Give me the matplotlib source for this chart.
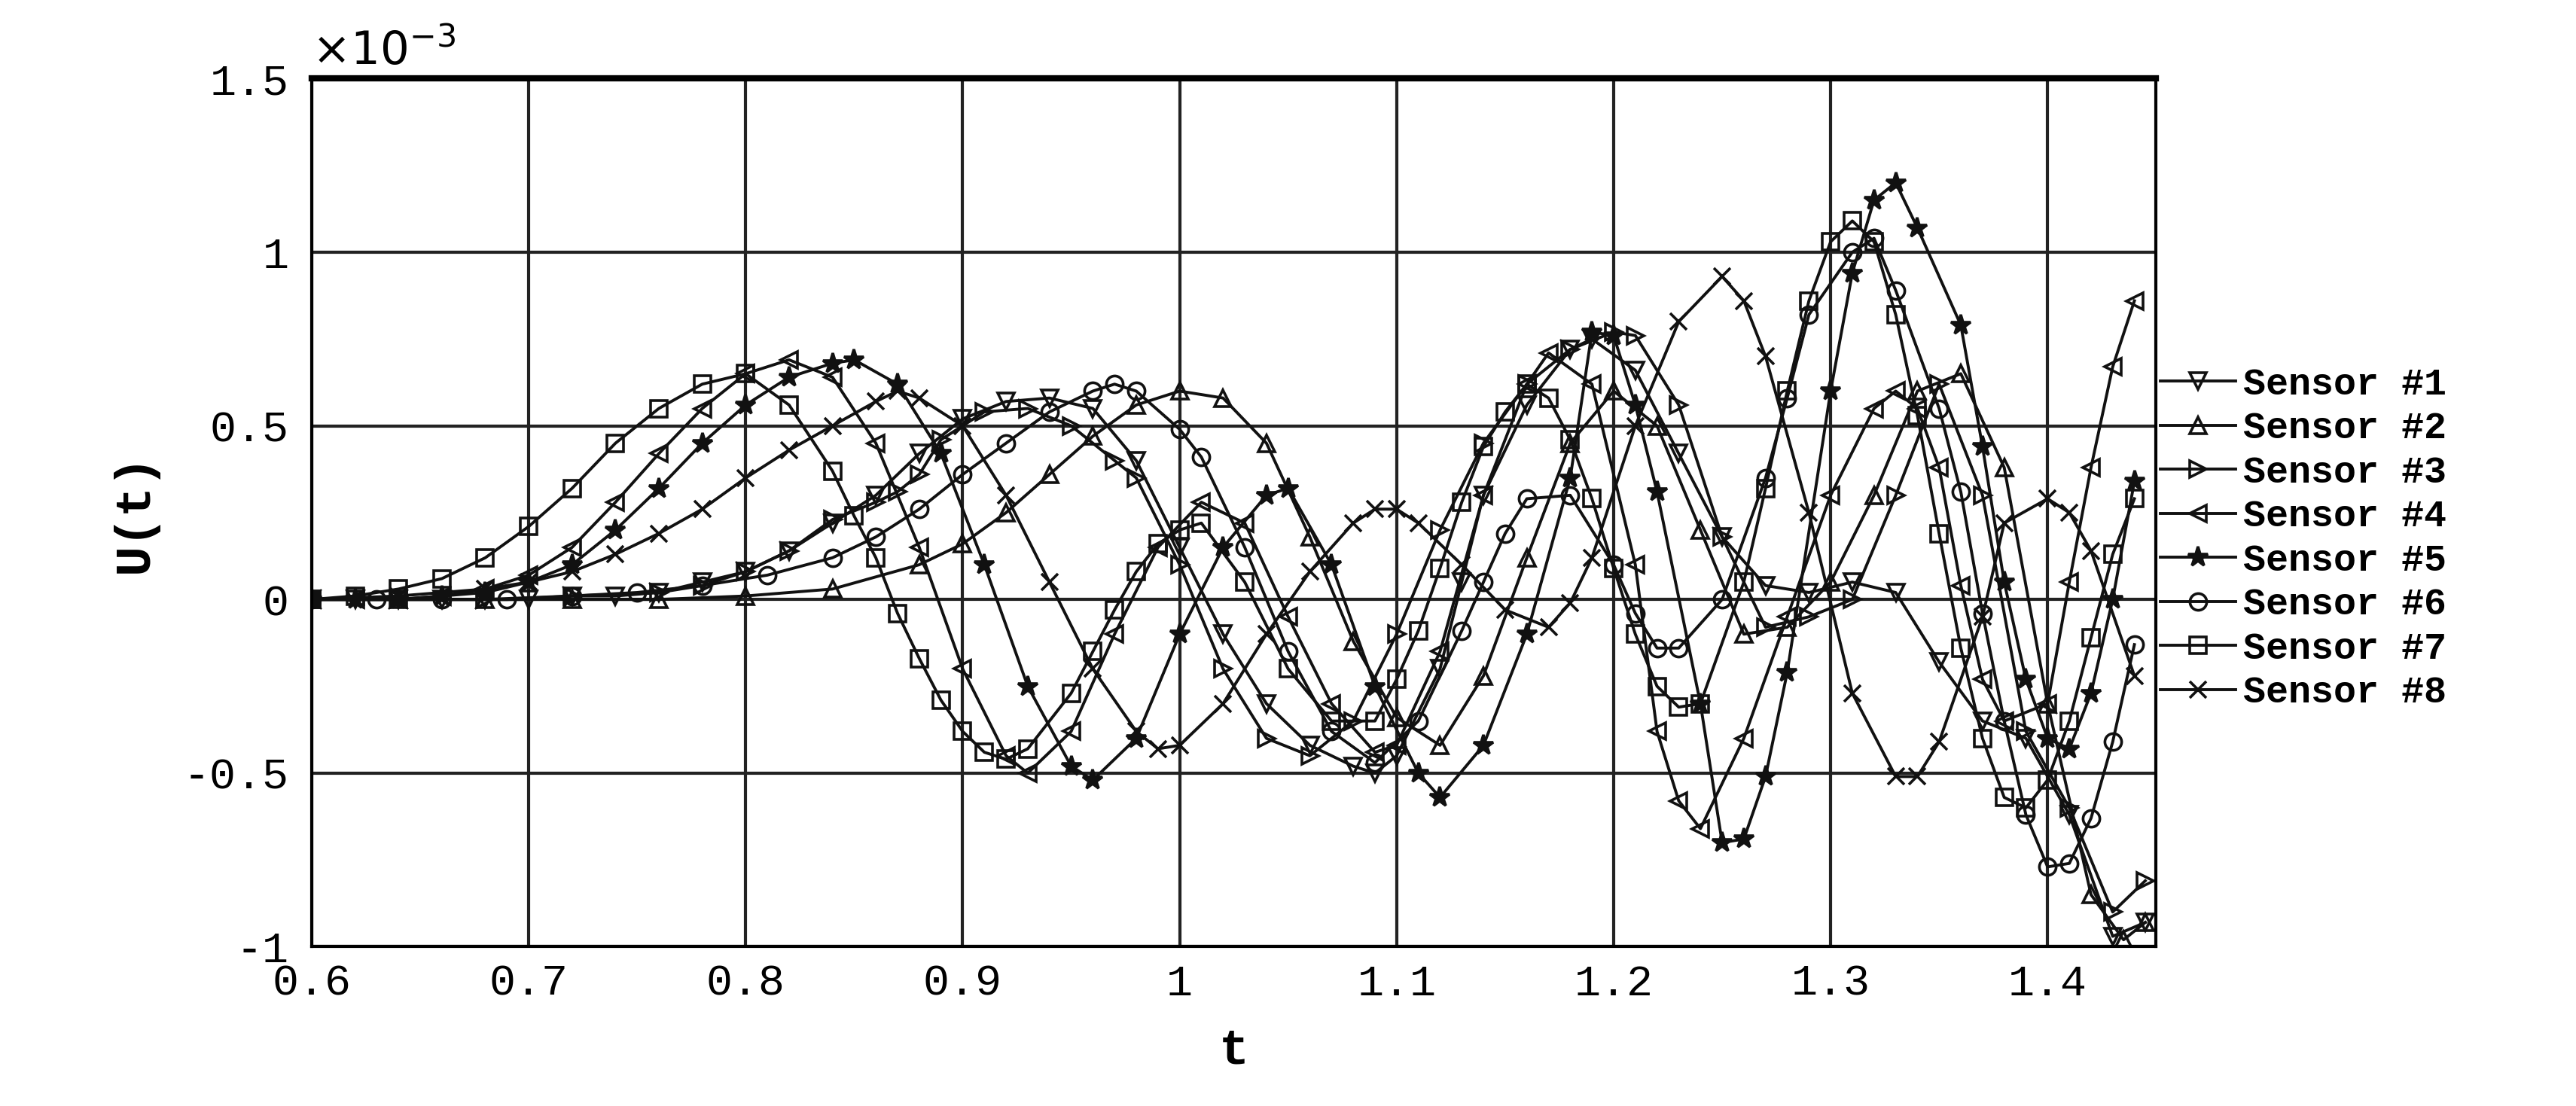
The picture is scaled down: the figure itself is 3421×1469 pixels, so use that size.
import matplotlib.pyplot as plt

# readings (t, U in units of 1e-3)
s1_t = [0.60, 0.62, 0.64, 0.66, 0.68, 0.70, 0.72, 0.74, 0.76, 0.78, 0.80, 0.82, 0.84, 0.86, 0.88, 0.90, 0.92, 0.94, 0.96, 0.98, 1.00, 1.02, 1.04, 1.06, 1.08, 1.09, 1.10, 1.12, 1.13, 1.14, 1.16, 1.18, 1.19, 1.21, 1.23, 1.25, 1.27, 1.29, 1.31, 1.33, 1.35, 1.37, 1.39, 1.41, 1.43, 1.445]
s1_u = [0.0, 0.0, 0.0, 0.0, 0.0, 0.0, 0.01, 0.01, 0.02, 0.05, 0.08, 0.14, 0.22, 0.3, 0.42, 0.52, 0.57, 0.58, 0.55, 0.4, 0.15, -0.1, -0.3, -0.42, -0.48, -0.5, -0.45, -0.2, 0.05, 0.3, 0.56, 0.72, 0.75, 0.66, 0.42, 0.18, 0.04, 0.02, 0.05, 0.02, -0.18, -0.35, -0.4, -0.62, -0.97, -0.93]

s2_t = [0.60, 0.64, 0.68, 0.72, 0.76, 0.80, 0.84, 0.88, 0.90, 0.92, 0.94, 0.96, 0.98, 1.00, 1.02, 1.04, 1.06, 1.08, 1.10, 1.12, 1.14, 1.16, 1.18, 1.20, 1.22, 1.24, 1.26, 1.28, 1.30, 1.32, 1.34, 1.36, 1.38, 1.40, 1.42, 1.435, 1.445]
s2_u = [0.0, 0.0, 0.0, 0.0, 0.0, 0.01, 0.03, 0.1, 0.16, 0.25, 0.36, 0.47, 0.56, 0.6, 0.58, 0.45, 0.18, -0.12, -0.34, -0.42, -0.22, 0.12, 0.45, 0.6, 0.5, 0.2, -0.1, -0.08, 0.05, 0.3, 0.6, 0.65, 0.38, -0.3, -0.85, -0.98, -0.93]

s3_t = [0.60, 0.64, 0.68, 0.72, 0.76, 0.78, 0.80, 0.82, 0.84, 0.86, 0.87, 0.88, 0.89, 0.91, 0.93, 0.95, 0.97, 0.98, 1.00, 1.02, 1.04, 1.06, 1.08, 1.10, 1.12, 1.14, 1.16, 1.18, 1.20, 1.21, 1.23, 1.25, 1.27, 1.29, 1.31, 1.33, 1.35, 1.37, 1.39, 1.41, 1.43, 1.445]
s3_u = [0.0, 0.0, 0.0, 0.01, 0.02, 0.04, 0.08, 0.14, 0.23, 0.28, 0.31, 0.36, 0.46, 0.54, 0.55, 0.5, 0.4, 0.35, 0.1, -0.2, -0.4, -0.45, -0.35, -0.1, 0.2, 0.45, 0.62, 0.72, 0.77, 0.76, 0.56, 0.18, -0.08, -0.05, 0.0, 0.3, 0.62, 0.3, -0.38, -0.6, -0.9, -0.81]

s4_t = [0.60, 0.62, 0.64, 0.66, 0.68, 0.70, 0.72, 0.74, 0.76, 0.78, 0.80, 0.82, 0.84, 0.86, 0.88, 0.90, 0.92, 0.93, 0.95, 0.97, 0.99, 1.01, 1.03, 1.05, 1.07, 1.09, 1.10, 1.12, 1.14, 1.16, 1.17, 1.19, 1.21, 1.22, 1.23, 1.24, 1.26, 1.28, 1.30, 1.32, 1.33, 1.34, 1.35, 1.36, 1.37, 1.38, 1.40, 1.41, 1.42, 1.43, 1.44]
s4_u = [0.0, 0.0, 0.0, 0.01, 0.03, 0.07, 0.15, 0.28, 0.42, 0.55, 0.65, 0.69, 0.64, 0.45, 0.15, -0.2, -0.45, -0.5, -0.38, -0.1, 0.15, 0.28, 0.22, -0.05, -0.3, -0.44, -0.42, -0.15, 0.3, 0.62, 0.71, 0.62, 0.1, -0.38, -0.58, -0.66, -0.4, -0.05, 0.3, 0.55, 0.6, 0.55, 0.38, 0.04, -0.23, -0.35, -0.3, 0.05, 0.38, 0.67, 0.86]

s5_t = [0.60, 0.62, 0.64, 0.66, 0.68, 0.70, 0.72, 0.74, 0.76, 0.78, 0.80, 0.82, 0.84, 0.85, 0.87, 0.89, 0.91, 0.93, 0.95, 0.96, 0.98, 1.00, 1.02, 1.04, 1.05, 1.07, 1.09, 1.11, 1.12, 1.14, 1.16, 1.18, 1.19, 1.20, 1.21, 1.22, 1.24, 1.25, 1.26, 1.27, 1.28, 1.30, 1.31, 1.32, 1.33, 1.34, 1.36, 1.37, 1.38, 1.39, 1.40, 1.41, 1.42, 1.43, 1.44]
s5_u = [0.0, 0.0, 0.0, 0.01, 0.02, 0.05, 0.1, 0.2, 0.32, 0.45, 0.56, 0.64, 0.68, 0.69, 0.62, 0.42, 0.1, -0.25, -0.48, -0.52, -0.4, -0.1, 0.15, 0.3, 0.32, 0.1, -0.25, -0.5, -0.57, -0.42, -0.1, 0.35, 0.77, 0.76, 0.56, 0.31, -0.3, -0.7, -0.69, -0.51, -0.21, 0.6, 0.94, 1.15, 1.2, 1.07, 0.79, 0.44, 0.05, -0.23, -0.4, -0.43, -0.27, 0.0, 0.34]

s6_t = [0.60, 0.63, 0.66, 0.69, 0.72, 0.75, 0.78, 0.81, 0.84, 0.86, 0.88, 0.90, 0.92, 0.94, 0.96, 0.97, 0.98, 1.00, 1.01, 1.03, 1.05, 1.07, 1.09, 1.11, 1.13, 1.14, 1.15, 1.16, 1.18, 1.20, 1.21, 1.22, 1.23, 1.25, 1.27, 1.28, 1.29, 1.31, 1.32, 1.33, 1.35, 1.36, 1.37, 1.38, 1.39, 1.40, 1.41, 1.42, 1.43, 1.44]
s6_u = [0.0, 0.0, 0.0, 0.0, 0.01, 0.02, 0.04, 0.07, 0.12, 0.18, 0.26, 0.36, 0.45, 0.54, 0.6, 0.62, 0.6, 0.49, 0.41, 0.15, -0.15, -0.38, -0.47, -0.35, -0.09, 0.05, 0.19, 0.29, 0.3, 0.1, -0.04, -0.14, -0.14, 0.0, 0.35, 0.58, 0.82, 1.0, 1.04, 0.89, 0.55, 0.31, -0.04, -0.35, -0.62, -0.77, -0.76, -0.63, -0.41, -0.13]

s7_t = [0.60, 0.62, 0.64, 0.66, 0.68, 0.70, 0.72, 0.74, 0.76, 0.78, 0.80, 0.82, 0.84, 0.85, 0.86, 0.87, 0.88, 0.89, 0.90, 0.91, 0.92, 0.93, 0.95, 0.96, 0.97, 0.98, 0.99, 1.00, 1.01, 1.03, 1.05, 1.07, 1.09, 1.10, 1.11, 1.12, 1.13, 1.14, 1.15, 1.16, 1.17, 1.18, 1.19, 1.20, 1.21, 1.22, 1.23, 1.24, 1.26, 1.27, 1.28, 1.29, 1.30, 1.31, 1.32, 1.33, 1.34, 1.35, 1.36, 1.37, 1.38, 1.39, 1.40, 1.41, 1.42, 1.43, 1.44]
s7_u = [0.0, 0.01, 0.03, 0.06, 0.12, 0.21, 0.32, 0.45, 0.55, 0.62, 0.65, 0.56, 0.37, 0.24, 0.12, -0.04, -0.17, -0.29, -0.38, -0.44, -0.46, -0.43, -0.27, -0.15, -0.03, 0.08, 0.16, 0.2, 0.22, 0.05, -0.2, -0.35, -0.35, -0.23, -0.09, 0.09, 0.28, 0.44, 0.54, 0.62, 0.58, 0.46, 0.29, 0.09, -0.1, -0.25, -0.31, -0.3, 0.05, 0.32, 0.6, 0.86, 1.03, 1.09, 1.03, 0.82, 0.53, 0.19, -0.14, -0.4, -0.57, -0.6, -0.52, -0.35, -0.11, 0.13, 0.29]

s8_t = [0.60, 0.64, 0.68, 0.70, 0.72, 0.74, 0.76, 0.78, 0.80, 0.82, 0.84, 0.86, 0.87, 0.88, 0.90, 0.92, 0.94, 0.96, 0.98, 0.99, 1.00, 1.02, 1.04, 1.06, 1.08, 1.09, 1.10, 1.11, 1.13, 1.15, 1.17, 1.18, 1.19, 1.21, 1.23, 1.25, 1.26, 1.27, 1.29, 1.31, 1.33, 1.34, 1.35, 1.37, 1.38, 1.40, 1.41, 1.42, 1.44]
s8_u = [0.0, 0.01, 0.03, 0.05, 0.08, 0.13, 0.19, 0.26, 0.35, 0.43, 0.5, 0.57, 0.6, 0.58, 0.5, 0.3, 0.05, -0.2, -0.38, -0.43, -0.42, -0.3, -0.1, 0.08, 0.22, 0.26, 0.26, 0.22, 0.1, -0.03, -0.08, -0.01, 0.12, 0.5, 0.8, 0.93, 0.86, 0.7, 0.25, -0.27, -0.51, -0.51, -0.41, -0.05, 0.22, 0.29, 0.25, 0.14, -0.22]

labels = ['Sensor #1', 'Sensor #2', 'Sensor #3', 'Sensor #4',
          'Sensor #5', 'Sensor #6', 'Sensor #7', 'Sensor #8']
markers = ['v', '^', '>', '<', '*', 'o', 's', 'x']
series = [(s1_t, s1_u), (s2_t, s2_u), (s3_t, s3_u), (s4_t, s4_u),
          (s5_t, s5_u), (s6_t, s6_u), (s7_t, s7_u), (s8_t, s8_u)]

plt.rcParams['font.family'] = ['Liberation Mono', 'DejaVu Sans']

fig = plt.figure(figsize=(34.21, 14.69), dpi=100)
ax = fig.add_axes([0.121, 0.144, 0.716, 0.785])

for (t, u), m, lab in zip(series, markers, labels):
    filled = m in ('*', 'x')
    ax.plot(t, u, color='#111111', lw=2.8, marker=m, markersize=16 if m != '*' else 20,
            markerfacecolor='#111111' if filled else 'none',
            markeredgecolor='#111111', markeredgewidth=2.6, label=lab)

ax.set_xlim(0.6, 1.45)
ax.set_ylim(-1, 1.5)
ax.set_xticks([0.6, 0.7, 0.8, 0.9, 1.0, 1.1, 1.2, 1.3, 1.4])
ax.set_xticklabels(['0.6', '0.7', '0.8', '0.9', '1', '1.1', '1.2', '1.3', '1.4'])
ax.set_yticks([-1, -0.5, 0, 0.5, 1, 1.5])
ax.set_yticklabels(['-1', '-0.5', '0', '0.5', '1', '1.5'])
ax.tick_params(axis='x', labelsize=42, length=0, pad=16)
ax.tick_params(axis='y', labelsize=42, length=0, pad=22)
ax.grid(True, color='#222222', lw=3)
for sp in ax.spines.values():
    sp.set_linewidth(3)
ax.spines['top'].set_linewidth(6)
ax.set_xlabel('t', fontsize=48, fontweight='bold', labelpad=22)
ax.set_ylabel('U(t)', fontsize=48, fontweight='bold', labelpad=24)
ax.text(0.0, 1.005, '\u00d710$^{-3}$', transform=ax.transAxes, fontsize=44,
        family='DejaVu Sans', va='bottom', ha='left')

ax.legend(loc='center left', bbox_to_anchor=(0.99, 0.47), frameon=False,
          prop={'family': 'Liberation Mono', 'weight': 'bold', 'size': 36},
          handlelength=2.0, handletextpad=0.2, labelspacing=0.25,
          borderaxespad=0.2)

fig.savefig('out.png', dpi=100)
